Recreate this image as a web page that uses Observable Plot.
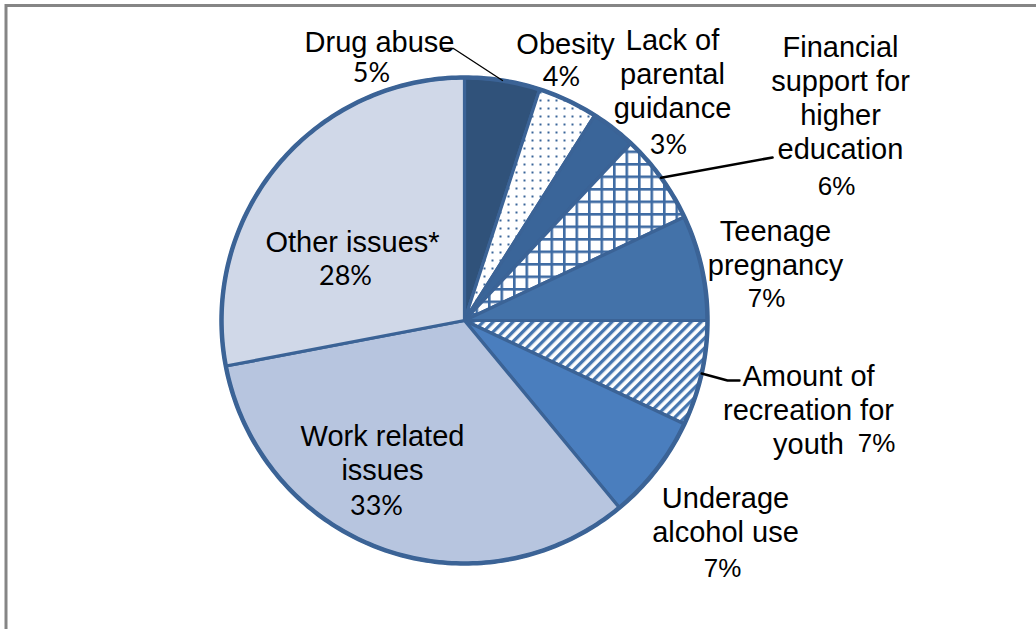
<!DOCTYPE html>
<html><head><meta charset="utf-8">
<script src="https://cdn.jsdelivr.net/npm/d3@7"></script>
<script src="https://cdn.jsdelivr.net/npm/@observablehq/plot@0.6"></script>
<style>html,body{margin:0;padding:0;background:#fff;overflow:hidden}</style>
</head><body><div id="chart"></div>
<script>
// ---- data ----
const categories = ["Drug abuse","Obesity","Lack of parental guidance","Financial support for higher education","Teenage pregnancy","Amount of recreation for youth","Underage alcohol use","Work related issues","Other issues*"];
const values = [5, 4, 3, 6, 7, 7, 7, 33, 28];
const nameLines = ["Drug abuse","Obesity","Lack of\nparental\nguidance","Financial\nsupport for\nhigher\neducation","Teenage\npregnancy","Amount of\nrecreation for\nyouth","Underage\nalcohol use","Work related\nissues","Other issues*"];
const pctLabels = ["5%","4%","3%","6%","7%","7%","7%","33%","28%"];

// ---- styles / layout ----
const sliceFills = ["#30527A","url(#pDots)","#3A6599","url(#pGrid)","#4372A9","url(#pStripe)","#4A7EBE","#B7C5DF","#D0D8E8"];
const W = 1036, H = 629, CX = 464, CY = 320, R = 243;
const nameAt = [[379,41],[565,43],[672,73],[840,97],[775,247],[808,409],[725,514],[382,452],[352,241]];
const pctAt  = [[371,73],[561,77],[668,145],[836,186],[766,298],[876,443],[722,568],[376,506],[345,276]];
const pctFont = ["Lato","Lato","Lato","Liberation Sans","Liberation Sans","Liberation Sans","Liberation Sans","Lato","Lato"];
const leaderElbows = {0: [[453,48],[440,48]], 3: [[772,157]], 5: [[727,380],[739,380]]};
const leaderWidths = {0: 1.3, 3: 2.6, 5: 2.4};

// ---- geometry from data ----
const arcs = d3.pie().sort(null).value(d => d)(values);
const polys = [];
arcs.forEach((a, i) => {
  polys.push({slice: i, x: CX, y: CY, fill: sliceFills[i]});
  const n = Math.max(2, Math.ceil((a.endAngle - a.startAngle) / (Math.PI / 180)));
  for (let k = 0; k <= n; k++) {
    const t = a.startAngle + (a.endAngle - a.startAngle) * k / n;
    polys.push({slice: i, x: CX + R * Math.sin(t), y: CY - R * Math.cos(t), fill: sliceFills[i]});
  }
});
const ring = d3.range(0, 361, 1).map(d => ({x: CX + R * Math.sin(d * Math.PI / 180), y: CY - R * Math.cos(d * Math.PI / 180)}));

const leaders = Object.keys(leaderElbows).map(k => {
  const a = arcs[+k]; const m = (a.startAngle + a.endAngle) / 2;
  const pts = [{x: CX + R * Math.sin(m), y: CY - R * Math.cos(m)}].concat(leaderElbows[k].map(([x, y]) => ({x, y})));
  return {pts, w: leaderWidths[k]};
});

const names = categories.map((c, i) => ({text: nameLines[i], x: nameAt[i][0], y: nameAt[i][1]}));
const pcts = categories.map((c, i) => ({text: pctLabels[i], x: pctAt[i][0], y: pctAt[i][1], font: pctFont[i]}));

function patternDefs() {
  const defs = d3.create("svg:defs");
  const dots = defs.append("pattern").attr("id", "pDots").attr("patternUnits", "userSpaceOnUse").attr("width", 8).attr("height", 8);
  dots.append("rect").attr("width", 8).attr("height", 8).attr("fill", "#fff");
  dots.append("rect").attr("x", 3).attr("y", 3).attr("width", 2).attr("height", 2).attr("fill", "#3A6599");
  const grid = defs.append("pattern").attr("id", "pGrid").attr("patternUnits", "userSpaceOnUse").attr("width", 12.5).attr("height", 12.5);
  grid.append("rect").attr("width", 12.5).attr("height", 12.5).attr("fill", "#fff");
  grid.append("rect").attr("x", 0).attr("y", 0).attr("width", 12.5).attr("height", 2.6).attr("fill", "#3E6BA3");
  grid.append("rect").attr("x", 0).attr("y", 0).attr("width", 2.6).attr("height", 12.5).attr("fill", "#3E6BA3");
  const st = defs.append("pattern").attr("id", "pStripe").attr("patternUnits", "userSpaceOnUse").attr("width", 7).attr("height", 7).attr("patternTransform", "rotate(45)");
  st.append("rect").attr("width", 7).attr("height", 7).attr("fill", "#fff");
  st.append("rect").attr("x", 0).attr("y", 0).attr("width", 3.3).attr("height", 7).attr("fill", "#4676B0");
  return defs.node();
}

const plot = Plot.plot({
  width: W, height: H,
  margin: 0,
  x: {domain: [0, W], range: [0, W], axis: null},
  y: {domain: [0, H], range: [0, H], axis: null},
  color: {type: "identity"},
  style: {background: "#fff"},
  marks: [
    patternDefs,
    Plot.ruleY([5], {x1: 5, x2: W, stroke: "#858585", strokeWidth: 3}),
    Plot.ruleX([5.5], {y1: 4, y2: H, stroke: "#858585", strokeWidth: 3}),
    Plot.line(polys, {x: "x", y: "y", z: "slice", fill: "fill", stroke: "#3B6396", strokeWidth: 3.2, strokeLinejoin: "round", curve: "linear-closed"}),
    Plot.line(ring, {x: "x", y: "y", stroke: "#3B6396", strokeWidth: 4.5, curve: "linear-closed"}),
    ...leaders.map(l => Plot.line(l.pts, {x: "x", y: "y", stroke: "#000", strokeWidth: l.w})),
    Plot.text(names, {x: "x", y: "y", text: "text", fontSize: 29, fontFamily: "Liberation Sans, Arial, sans-serif", lineHeight: 1.17, textAnchor: "middle", lineAnchor: "middle", fill: "#000"}),
    ...pcts.map(p => Plot.text([p], {x: "x", y: "y", text: "text", fontSize: p.font === "Lato" ? 27 : 26, fontFamily: p.font, textAnchor: "middle", lineAnchor: "middle", fill: "#000"}))
  ]
});
document.getElementById("chart").appendChild(plot);
</script>
</body></html>
